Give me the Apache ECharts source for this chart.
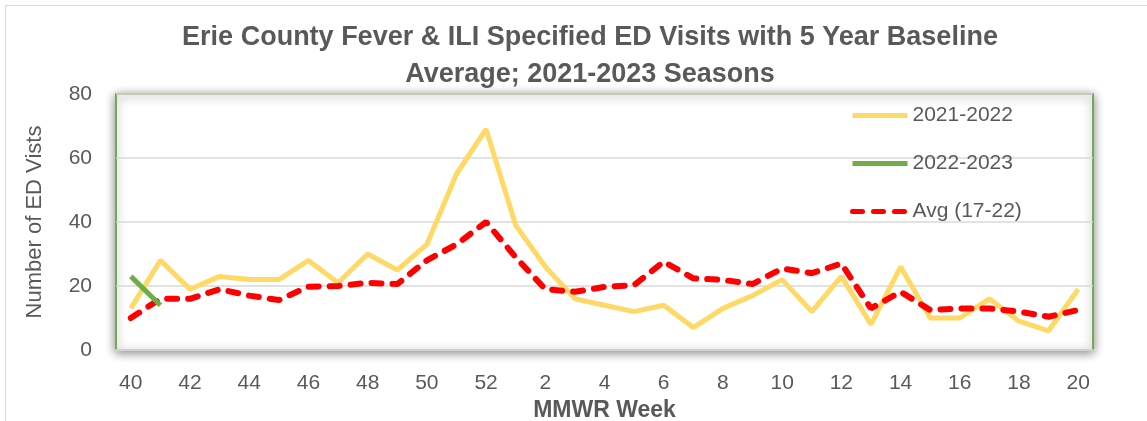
<!DOCTYPE html>
<html lang="en">
<head>
    <meta charset="UTF-8">
    <title>Erie County Fever & ILI ED Visits</title>
    <script src="https://cdn.jsdelivr.net/npm/echarts@6/dist/echarts.min.js"></script>
    <style>
        body { margin: 0; background: #ffffff; }
        #chart { width: 1147px; height: 421px; }
        .frame {
            position: absolute;
            left: 5px; top: 5px;
            width: 1200px; height: 500px;
            border-left: 1px solid #d9d9d9;
            border-top: 1px solid #d9d9d9;
            pointer-events: none;
        }
    </style>
</head>
<body>
    <div id="chart"></div>
    <div class="frame"></div>

    <script>
        // MMWR weeks, season runs week 40 -> week 20
        const weeks = ['40','41','42','43','44','45','46','47','48','49','50','51','52',
                       '1','2','3','4','5','6','7','8','9','10','11','12','13','14','15','16','17','18','19','20'];
        const season2122 = [13,28,19,23,22,22,28,21,30,25,33,55,69,
                            39,26,16,14,12,14,7,13,17,22,12,23,8,26,10,10,16,9,6,19];
        const season2223 = [23,14];
        const avg1722 = [10,16,16,19,17,15.6,19.8,20,21,20.6,28,33,40,
                         29,19,18.2,19.7,20.3,27.6,22.4,21.9,20.6,25.5,24,27,13,18.2,12.5,13,13,12,10.4,12.5];

        const font = "'Liberation Sans', Arial, sans-serif";
        const grey = '#595959';

        const chart = echarts.init(document.getElementById('chart'));
        const option = {
            animation: false,
            title: {
                text: 'Erie County Fever & ILI Specified ED Visits with 5 Year Baseline\nAverage; 2021-2023 Seasons',
                left: 585,
                textAlign: 'center',
                top: 14,
                textStyle: {
                    fontFamily: font,
                    fontSize: 27,
                    fontWeight: 'bold',
                    color: grey,
                    lineHeight: 37
                }
            },
            legend: {
                orient: 'vertical',
                left: 845,
                top: 100,
                itemWidth: 55,
                itemHeight: 20,
                itemGap: 27,
                itemStyle: { opacity: 0 },
                lineStyle: { width: 5 },
                textStyle: { fontFamily: font, fontSize: 21, color: grey },
                data: ['2021-2022', '2022-2023', 'Avg (17-22)']
            },
            grid: {
                show: true,
                left: 116,
                top: 94,
                width: 977,
                height: 256,
                outerBoundsMode: 'none',
                containLabel: false,
                backgroundColor: '#ffffff',
                borderColor: '#70ad47',
                borderWidth: 2,
                shadowColor: 'rgba(0,0,0,0.45)',
                shadowBlur: 10,
                shadowOffsetX: 0,
                shadowOffsetY: 2
            },
            xAxis: {
                type: 'category',
                data: weeks,
                boundaryGap: true,
                name: 'MMWR Week',
                nameLocation: 'middle',
                nameGap: 42,
                nameTextStyle: { fontFamily: font, fontSize: 23, fontWeight: 'bold', color: grey },
                axisLine: { show: true, lineStyle: { color: '#d0d0d0', width: 2 } },
                axisTick: { show: false },
                axisLabel: { interval: 1, margin: 23, fontFamily: font, fontSize: 21, color: grey }
            },
            yAxis: {
                type: 'value',
                min: 0,
                max: 80,
                interval: 20,
                name: 'Number of ED Vists',
                nameLocation: 'middle',
                nameGap: 70,
                nameTextStyle: { fontFamily: font, fontSize: 22, color: grey },
                axisLine: { show: false },
                axisTick: { show: false },
                axisLabel: { margin: 24, fontFamily: font, fontSize: 21, color: grey },
                splitLine: { lineStyle: { color: '#d9d9d9', width: 1.5 } }
            },
            series: [
                {
                    name: '2021-2022',
                    type: 'line',
                    data: season2122,
                    symbol: 'none',
                    color: '#ffd966',
                    lineStyle: { color: '#ffd966', width: 5 },
                    z: 2
                },
                {
                    name: '2022-2023',
                    type: 'line',
                    data: season2223,
                    symbol: 'none',
                    color: '#70ad47',
                    lineStyle: { color: '#70ad47', width: 5 },
                    z: 4
                },
                {
                    name: 'Avg (17-22)',
                    type: 'line',
                    data: avg1722,
                    symbol: 'none',
                    color: '#ff0000',
                    lineStyle: { color: '#ff0000', width: 6, type: [10, 11], cap: 'round' },
                    z: 3
                }
            ]
        };
        chart.setOption(option);
    </script>
</body>
</html>
